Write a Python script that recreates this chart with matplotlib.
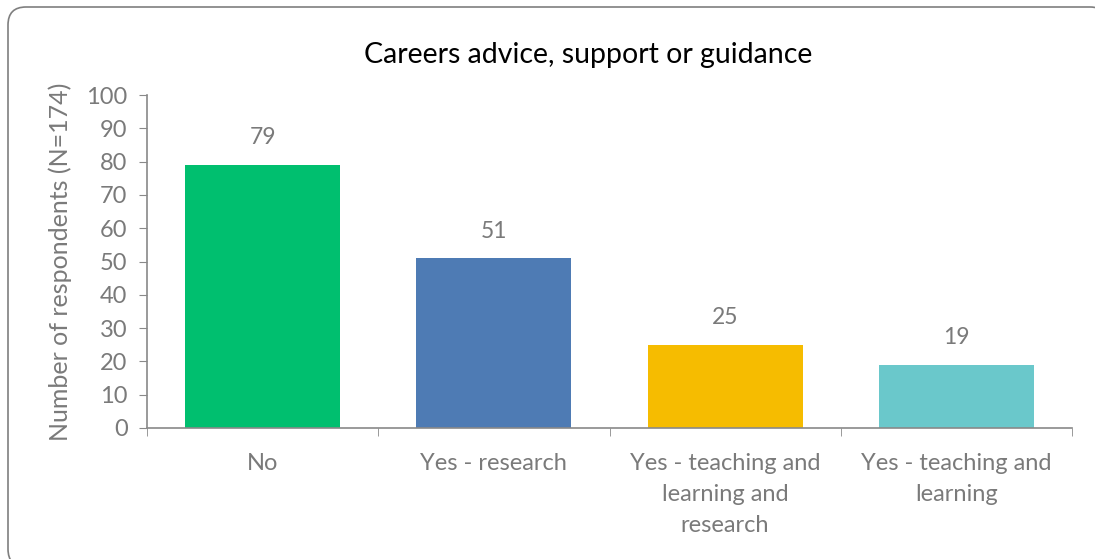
import matplotlib.pyplot as plt
from matplotlib.patches import FancyBboxPatch

plt.rcParams['font.family'] = ['Lato', 'DejaVu Sans']

categories = ['No', 'Yes - research', 'Yes - teaching and\nlearning and\nresearch',
              'Yes - teaching and\nlearning']
counts = [79, 51, 25, 19]
colors = ['#00BF6F', '#4E7BB4', '#F6BC00', '#6AC8CB']

grey = '#898989'
text_grey = '#7a7a7a'

fig = plt.figure(figsize=(10.95, 5.59), dpi=100)

# rounded frame around the whole chart, drawn in pixel units
bg = fig.add_axes([0, 0, 1, 1])
bg.set_xlim(0, 1095)
bg.set_ylim(559, 0)
bg.axis('off')
bg.add_patch(FancyBboxPatch((8, 7), 1100, 560, boxstyle='round,pad=0,rounding_size=18',
                            facecolor='white', edgecolor='#7f7f7f', linewidth=1.2))

ax = fig.add_axes([147 / 1095, 1 - 428 / 559, 925 / 1095, 333 / 559])
ax.patch.set_alpha(0)
x = range(len(categories))
ax.bar(x, counts, width=0.67, color=colors)
for xi, v in zip(x, counts):
    ax.annotate(str(v), (xi, v), xytext=(0, 12), textcoords='offset points',
                ha='center', va='bottom', fontsize=16.5, color=text_grey)

ax.set_xlim(-0.5, len(categories) - 0.5)
ax.set_ylim(0, 100)
ax.set_yticks(range(0, 101, 10))
ax.set_xticks(x)
ax.set_xticklabels(categories, fontsize=17, color=text_grey, linespacing=1.6)
ax.set_xticks([i - 0.5 for i in range(len(categories) + 1)], minor=True)
ax.tick_params(axis='x', which='major', length=0, pad=18)
ax.tick_params(axis='x', which='minor', length=6, color=grey, direction='out')
ax.tick_params(axis='y', length=6, color=grey, labelsize=17, labelcolor=text_grey, pad=8)
for side in ['top', 'right']:
    ax.spines[side].set_visible(False)
for side in ['left', 'bottom']:
    ax.spines[side].set_color(grey)
    ax.spines[side].set_linewidth(1.2)

ax.set_ylabel('Number of respondents (N=174)', fontsize=18, color=text_grey, labelpad=10)
fig.text(588 / 1095, 1 - 55 / 559, 'Careers advice, support or guidance',
         ha='center', va='center', fontsize=20.5, color='black')

fig.savefig('out.png', dpi=100)
